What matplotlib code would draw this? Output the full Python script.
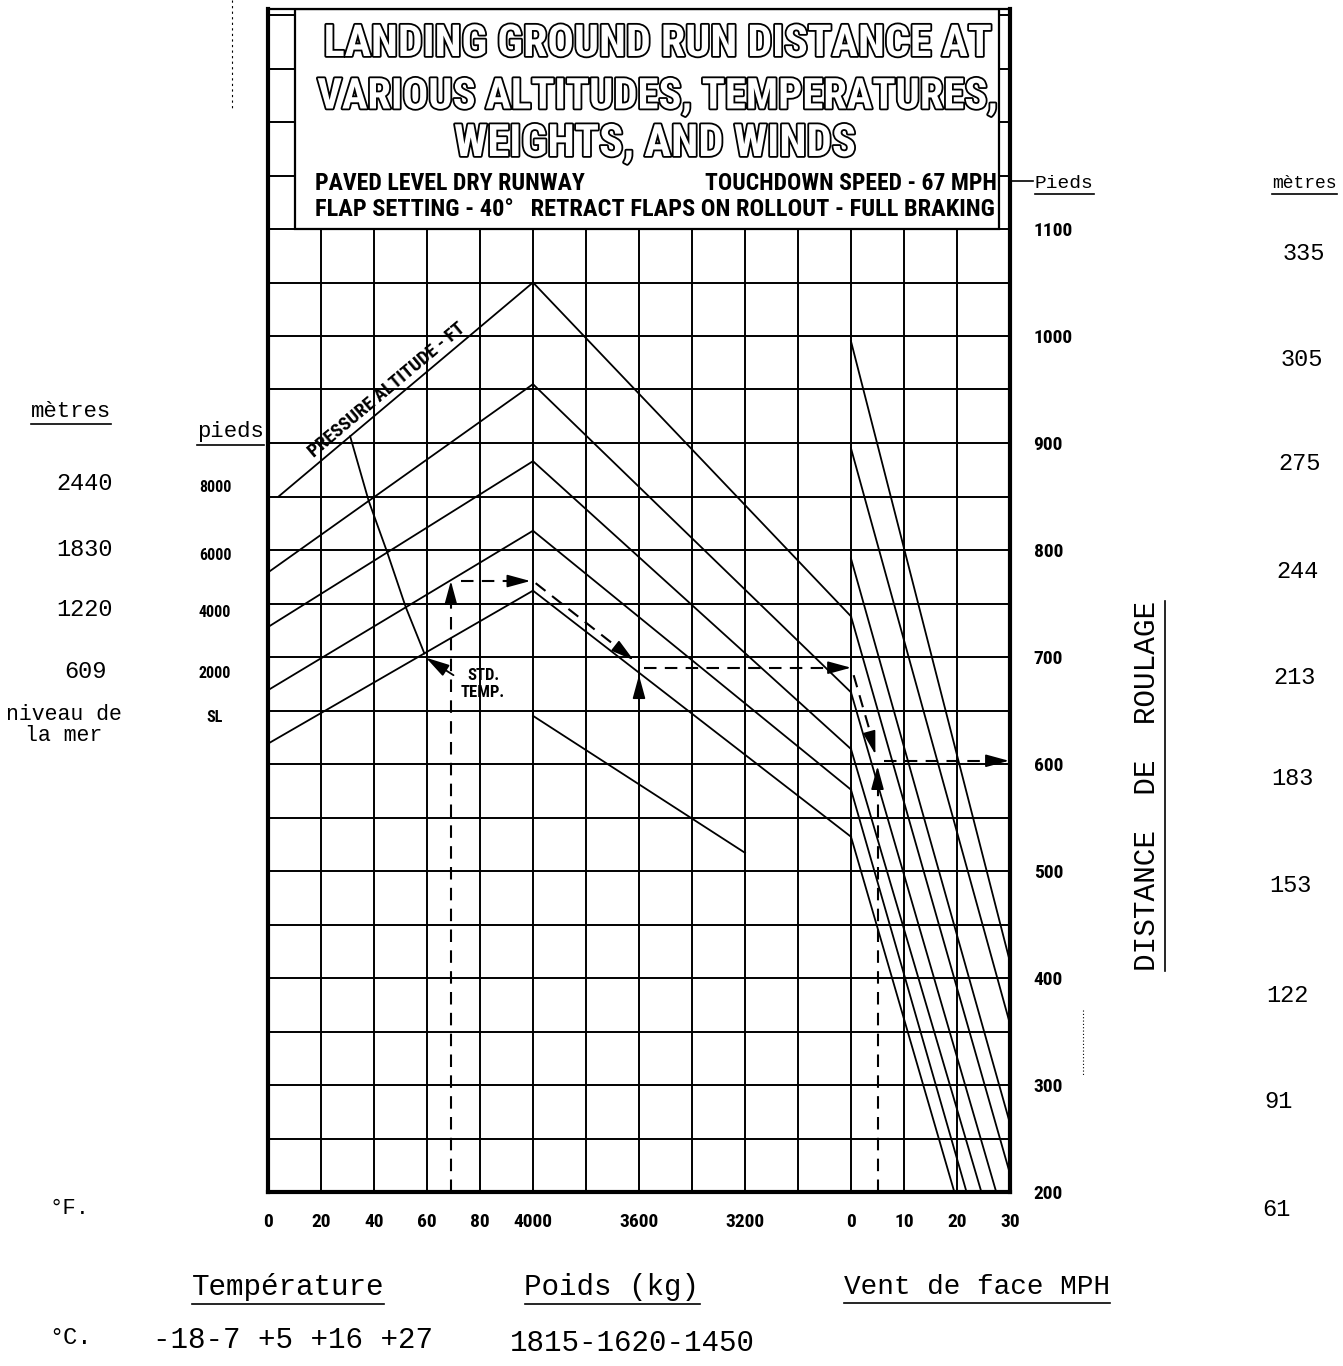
import numpy as np
import matplotlib
matplotlib.use("Agg")
import matplotlib.pyplot as plt
from matplotlib import patheffects as pe
from matplotlib.patches import Rectangle
from matplotlib.lines import Line2D

# ------------------ values ------------------
temp_ticks_F = [0, 20, 40, 60, 80]
weight_ticks_lb = [4000, 3600, 3200]
wind_ticks_mph = [0, 10, 20, 30]
dist_ticks_ft = [200, 300, 400, 500, 600, 700, 800, 900, 1000, 1100]
dist_ticks_m = ['61', '91', '122', '153', '183', '213', '244', '275', '305', '335']

alt_names = ['SL', '2000', '4000', '6000', '8000']
alt_metres = ['niveau de\nla mer', '609', '1220', '1830', '2440']
alt_start_F = [0, 0, 0, 0, 4]
alt_start_ft = [619, 669, 728, 779, 850]
alt_end_ft = [762, 818, 883, 955, 1050]          # on the 100 F / 4000 lb line
std_temp_F = [59, 52, 45, 38, 31]

guide_start_ft = [1050, 955, 883, 818, 762, 645]  # at 4000 lb
guide_end_lb = [2800, 2800, 2800, 2800, 2800, 3200]
guide_end_ft = [738, 667, 614, 576, 532, 517]

wind_start_ft = [995, 895, 792, 738, 667, 614, 576, 532]   # at 0 mph
wind_end_mph = [30, 30, 30, 30, 27.4, 24.6, 21.8, 19.5]
wind_end_ft = [415, 357, 264, 217, 200, 200, 200, 200]

ex_temp_F = 69
ex_alt_ft = 771
ex_weight_lb = 3600
ex_weight_ft = 690
ex_wind_mph = 5
ex_result_ft = 603

# ------------------ helpers ------------------
W, H = 1343, 1366
COND = ['DejaVu Sans Condensed', 'Liberation Sans Narrow', 'Roboto Condensed',
        'Noto Sans Condensed', 'DejaVu Sans']
TYPE = ['Liberation Mono', 'DejaVu Sans Mono']


def X_temp(F):
    return np.asarray(F, dtype=float) / 20.0


def X_wt(lb):
    return 5 + (4000 - np.asarray(lb, dtype=float)) / 200.0


def X_wind(m):
    return 11 + np.asarray(m, dtype=float) / 10.0


fig = plt.figure(figsize=(W / 100, H / 100), dpi=100)
fig.patch.set_facecolor('white')
AX_L, AX_R, AX_B, AX_T = 268, 1010, 1192, 9
ax = fig.add_axes([AX_L / W, 1 - AX_B / H, (AX_R - AX_L) / W, (AX_B - AX_T) / H])
YTOP = 200 + (AX_B - AX_T) / 53.5 * 50
ax.set_xlim(0, 14)
ax.set_ylim(200, YTOP)
R = fig.canvas.get_renderer()


def ftext(px, py, s, **kw):
    return fig.text(px / W, 1 - py / H, s, **kw)


def fit_w(t, w):
    bb = t.get_window_extent(R)
    t.set_fontsize(t.get_fontsize() * w / bb.width)


def fit_h(t, h):
    bb = t.get_window_extent(R)
    t.set_fontsize(t.get_fontsize() * h / bb.height)


def underline(t, gap=3, lw=1.2):
    bb = t.get_window_extent(R)
    y = bb.y0 - gap
    fig.add_artist(Line2D([bb.x0 / W, bb.x1 / W], [y / H, y / H], color='k', lw=lw))


def fline(xs, ys, **kw):
    fig.add_artist(Line2D([x / W for x in xs], [1 - y / H for y in ys], **kw))


def head(tip, frm, ms=13):
    """arrow head whose tip is at `tip`, pointing away from `frm` (data coords)"""
    p1 = ax.transData.transform(tip)
    p0 = ax.transData.transform(frm)
    d = (p1 - p0) / np.hypot(*(p1 - p0))
    tail = ax.transData.inverted().transform(p1 - d * 14)
    ax.annotate('', xy=tip, xytext=tail,
                arrowprops=dict(arrowstyle='-|>,head_length=1.1,head_width=0.3',
                                color='k', lw=1.2, shrinkA=0, shrinkB=0,
                                mutation_scale=ms), zorder=7)


# ------------------ grid & frame ------------------
for c in range(1, 14):
    ax.axvline(c, color='k', lw=1.4, zorder=1)
for v in np.arange(250, YTOP, 50):
    ax.axhline(v, color='k', lw=1.4, zorder=1)
for side, lw in [('left', 3.0), ('bottom', 3.0), ('right', 3.0), ('top', 1.6)]:
    ax.spines[side].set_linewidth(lw)
    ax.spines[side].set_zorder(8)

# title box
ax.add_patch(Rectangle((0.5, 1100), 13.3, YTOP - 1100, facecolor='white',
                       edgecolor='k', lw=1.6, zorder=5))

# ------------------ curves ------------------
LW = 1.3
alt_x0 = X_temp(alt_start_F)
for i in range(len(alt_names)):
    ax.plot([alt_x0[i], 5], [alt_start_ft[i], alt_end_ft[i]], color='k', lw=LW, zorder=3)


def alt_y(i, x):
    return alt_start_ft[i] + (alt_end_ft[i] - alt_start_ft[i]) * (x - alt_x0[i]) / (5 - alt_x0[i])


std_x = X_temp(std_temp_F)
std_y = [alt_y(i, std_x[i]) for i in range(len(std_x))]
ax.plot(std_x, std_y, color='k', lw=LW, zorder=3)

for s, lb, e in zip(guide_start_ft, guide_end_lb, guide_end_ft):
    ax.plot([5, X_wt(lb)], [s, e], color='k', lw=LW, zorder=3)

for s, m, e in zip(wind_start_ft, wind_end_mph, wind_end_ft):
    ax.plot([11, X_wind(m)], [s, e], color='k', lw=LW, zorder=3)

# ------------------ worked example (dashed) ------------------
DS = dict(color='k', lw=1.5, ls=(0, (6, 4)), zorder=4)
xt = float(X_temp(ex_temp_F))
ax.plot([xt, xt], [200, ex_alt_ft - 4], **DS)
head((xt, ex_alt_ft), (xt, 600))
ax.plot([xt + 0.2, 4.85], [ex_alt_ft, ex_alt_ft], **DS)
head((4.95, ex_alt_ft), (4.0, ex_alt_ft))
xw = float(X_wt(ex_weight_lb))
ax.plot([5.05, xw - 0.15], [ex_alt_ft - 2, ex_weight_ft + 9], **DS)
head((xw - 0.1, ex_weight_ft + 7), (5.05, ex_alt_ft - 2))
head((xw, ex_weight_ft - 7), (xw, 600))
ax.plot([xw + 0.1, 10.85], [ex_weight_ft, ex_weight_ft], **DS)
head((11.0, ex_weight_ft), (9, ex_weight_ft))
xwind = float(X_wind(ex_wind_mph))
ax.plot([11.05, xwind - 0.07], [ex_weight_ft - 7, ex_result_ft + 15], **DS)
head((xwind - 0.04, ex_result_ft + 6), (11.05, ex_weight_ft - 7))
ax.plot([xwind, xwind], [200, ex_result_ft - 10], **DS)
head((xwind, ex_result_ft - 5), (xwind, 300))
ax.plot([xwind + 0.12, 13.8], [ex_result_ft, ex_result_ft], **DS)
head((13.98, ex_result_ft), (12.5, ex_result_ft))

# ------------------ in-chart labels ------------------
xl = 2.35
slope = (alt_end_ft[4] - alt_start_ft[4]) / (5 - alt_x0[4])
pa = ax.text(xl, alt_y(4, xl) + 3, 'PRESSURE ALTITUDE - FT', ha='center', va='bottom',
             rotation=np.degrees(np.arctan2(slope, 1)), rotation_mode='anchor',
             transform_rotates_text=True, family=COND, fontweight='bold',
             fontstretch='condensed', fontsize=12, zorder=6)
bbp = pa.get_window_extent(R)
pa.set_fontsize(12 * 215 / np.hypot(bbp.width, bbp.height))
st = ax.text((483 - AX_L) / 53.0, 200 + (AX_B - 684) / 53.5 * 50, 'STD.\nTEMP.',
             ha='center', va='center', family=COND, fontweight='bold',
             fontstretch='condensed', fontsize=12, linespacing=1.2, zorder=6)
ax.annotate('', xy=(std_x[0] + 0.03, std_y[0] - 4), xytext=(3.5, 683),
            arrowprops=dict(arrowstyle='-|>,head_length=1.1,head_width=0.3', color='k',
                            lw=1.3, shrinkA=0, shrinkB=0, mutation_scale=13), zorder=6)

# ------------------ title box text ------------------
TK = dict(family=COND, fontweight='bold', fontstretch='condensed', color='white',
          ha='center', va='center', zorder=9,
          path_effects=[pe.Stroke(linewidth=2.6, foreground='k'), pe.Normal()])
for s, cx, cy, w in [('LANDING GROUND RUN DISTANCE AT', 657, 44, 669),
                     ('VARIOUS ALTITUDES, TEMPERATURES,', 658, 97, 681),
                     ('WEIGHTS, AND WINDS', 655, 144, 402)]:
    t = ftext(cx, cy, s, fontsize=26, **TK)
    fit_w(t, w)

SK = dict(family=COND, fontweight='bold', fontstretch='condensed', va='center', zorder=9)
t = ftext(315, 183, 'PAVED LEVEL DRY RUNWAY', ha='left', fontsize=12, **SK)
fit_w(t, 269)
t = ftext(997, 183, 'TOUCHDOWN SPEED - 67 MPH', ha='right', fontsize=12, **SK)
fit_w(t, 292)
t = ftext(315, 210, 'FLAP SETTING - 40°   RETRACT FLAPS ON ROLLOUT - FULL BRAKING',
          ha='left', fontsize=12, **SK)
fit_w(t, 682)

# ------------------ axes ticks ------------------
xt_pos = list(X_temp(temp_ticks_F)) + list(X_wt(weight_ticks_lb)) + list(X_wind(wind_ticks_mph))
xt_lab = [str(v) for v in temp_ticks_F] + [str(v) for v in weight_ticks_lb] + \
         [str(v) for v in wind_ticks_mph]
ax.set_xticks(xt_pos)
ax.set_xticklabels(xt_lab)
ax.yaxis.tick_right()
ax.set_yticks(dist_ticks_ft)
ax.set_yticklabels([str(v) for v in dist_ticks_ft])
ax.tick_params(axis='both', length=0)
ax.tick_params(axis='x', pad=15)
ax.tick_params(axis='y', pad=17, labelright=True, labelleft=False)
for lab in ax.get_xticklabels() + ax.get_yticklabels():
    lab.set_family(COND)
    lab.set_fontweight('bold')
    lab.set_fontstretch('condensed')
    lab.set_fontsize(14)

# left altitude labels (feet) and metres
alt_label_py = [718, 673, 612, 555, 488]
for name, py in zip(alt_names, alt_label_py):
    ftext(215, py, name, ha='center', va='center', family=COND, fontweight='bold',
          fontstretch='condensed', fontsize=11.5)
met_py = [725, 672, 610, 550, 483]
for name, py in zip(alt_metres, met_py):
    ftext(85 if '\n' not in name else 64, py, name, ha='center', va='center',
          family=TYPE, fontsize=17 if '\n' not in name else 15.5, linespacing=1.0)
t = ftext(71, 412, 'mètres', ha='center', va='center', family=TYPE, fontsize=16)
underline(t, 2)
t = ftext(197, 432, 'pieds', ha='left', va='center', family=TYPE, fontsize=16)
underline(t, 2)

# right side labels
fline([1010, 1033], [181, 181], color='k', lw=1.2)
t = ftext(1035, 183, 'Pieds', ha='left', va='center', family=TYPE, fontsize=14)
underline(t, 2)
t = ftext(1272, 183, 'mètres', ha='left', va='center', family=TYPE, fontsize=13)
underline(t, 2)
met_right_py = [1209, 1102, 995, 885, 778, 678, 571, 464, 360, 253]
for s, py in zip(dist_ticks_m, met_right_py):
    ftext(1283 - (py - 253) * 0.022, py, s, ha='left', va='center', family=TYPE, fontsize=17)
t = ftext(1147, 786, 'DISTANCE  DE  ROULAGE', ha='center', va='center', rotation=90,
          family=TYPE, fontsize=18)
fit_h(t, 371)
bb = t.get_window_extent(R)
fig.add_artist(Line2D([(bb.x1 + 4) / W] * 2, [bb.y0 / H, bb.y1 / H], color='k', lw=1.2))

# scan marks
fline([232, 232], [0, 110], color='k', lw=0.8, ls=(0, (2, 3)))
fline([1083, 1083], [1010, 1075], color='k', lw=0.8, ls=(0, (1, 2)))

# bottom labels
ftext(70, 1208, '°F.', ha='center', va='center', family=TYPE, fontsize=16)
t = ftext(288, 1287, 'Température', ha='center', va='center', family=TYPE, fontsize=18)
fit_w(t, 193)
fs_b = t.get_fontsize()
underline(t, 3)
t = ftext(612, 1287, 'Poids (kg)', ha='center', va='center', family=TYPE, fontsize=fs_b)
underline(t, 3)
t = ftext(844, 1287, 'Vent de face MPH', ha='left', va='center', family=TYPE, fontsize=fs_b * 0.95)
underline(t, 3)
ftext(70, 1337, '°C.', ha='center', va='center', family=TYPE, fontsize=17)
t = ftext(153, 1340, '-18-7 +5 +16 +27', ha='left', va='center', family=TYPE, fontsize=18)
fit_w(t, 281)
t = ftext(510, 1343, '1815-1620-1450', ha='left', va='center', family=TYPE, fontsize=18)
fit_w(t, 245)

fig.savefig('out.png', dpi=100, facecolor='white')
